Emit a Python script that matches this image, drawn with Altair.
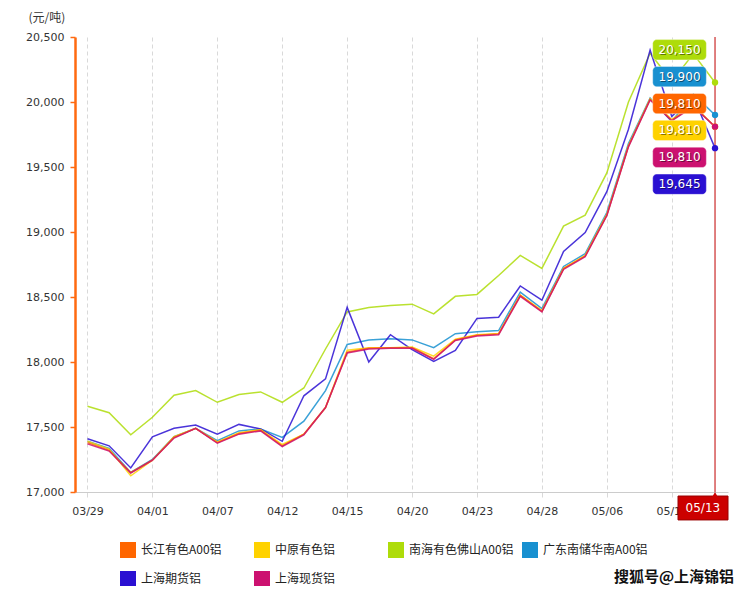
import altair as alt
import pandas as pd

dates = ["03/29", "03/30", "03/31", "04/01", "04/02", "04/06", "04/07", "04/08", "04/09", "04/12",
         "04/13", "04/14", "04/15", "04/16", "04/19", "04/20", "04/21", "04/22", "04/23", "04/26",
         "04/27", "04/28", "04/29", "04/30", "05/06", "05/07", "05/10", "05/11", "05/12", "05/13"]

series = ["长江有色A00铝", "中原有色铝", "南海有色佛山A00铝", "广东南储华南A00铝", "上海期货铝", "上海现货铝"]
colors = ["#FF6600", "#FFD200", "#AEDC0A", "#1890D0", "#2A10D2", "#CC1170"]

changjiang = [17380, 17320, 17150, 17245, 17420, 17490, 17380, 17450, 17475, 17355,
              17445, 17650, 18075, 18105, 18110, 18110, 18025, 18170, 18205, 18215,
              18512, 18390, 18718, 18815, 19130, 19660, 20020, 19860, 19970, 19810]
zhongyuan = [17390, 17330, 17125, 17245, 17425, 17490, 17385, 17455, 17480, 17365,
             17445, 17650, 18090, 18110, 18110, 18115, 18045, 18175, 18210, 18220,
             18515, 18395, 18720, 18820, 19135, 19665, 20025, 19865, 19975, 19810]
nanhai = [17660, 17610, 17440, 17575, 17745, 17780, 17690, 17750, 17770, 17690,
          17800, 18100, 18385, 18420, 18435, 18445, 18370, 18505, 18520, 18665,
          18820, 18720, 19045, 19130, 19455, 20000, 20375, 20160, 20370, 20150]
guangdong = [17390, 17335, 17150, 17250, 17425, 17490, 17395, 17470, 17485, 17420,
             17545, 17780, 18135, 18170, 18178, 18170, 18110, 18218, 18232, 18242,
             18537, 18410, 18735, 18833, 19150, 19680, 20030, 19850, 20060, 19900]
shfe = [17410, 17355, 17185, 17425, 17490, 17515, 17445, 17520, 17485, 17390,
        17740, 17870, 18420, 18000, 18210, 18095, 18005, 18090, 18335, 18345,
        18585, 18475, 18850, 18995, 19310, 19790, 20400, 19890, 20040, 19645]
shspot = [17370, 17315, 17145, 17245, 17415, 17490, 17375, 17445, 17470, 17350,
          17440, 17650, 18070, 18100, 18105, 18105, 18020, 18165, 18200, 18210,
          18505, 18385, 18712, 18810, 19125, 19655, 20015, 19855, 19965, 19810]

values = {
    "长江有色A00铝": changjiang,
    "中原有色铝": zhongyuan,
    "南海有色佛山A00铝": nanhai,
    "广东南储华南A00铝": guangdong,
    "上海期货铝": shfe,
    "上海现货铝": shspot,
}

y_ticks = [17000, 17500, 18000, 18500, 19000, 19500, 20000, 20500]
unit_label = "(元/吨)"
watermark = "搜狐号@上海锦铝"

# drawing order (last drawn is on top)
draw_order = ["南海有色佛山A00铝", "广东南储华南A00铝", "上海期货铝", "中原有色铝", "长江有色A00铝", "上海现货铝"]
rows = []
for s in draw_order:
    for i, d in enumerate(dates):
        rows.append({"series": s, "idx": i, "date": d, "value": values[s][i]})
df = pd.DataFrame(rows)

last = len(dates) - 1
last_df = pd.DataFrame({"series": series, "idx": [last] * len(series),
                        "value": [values[s][last] for s in series]})

# tooltip-style boxes, sorted by last value
sorted_series = sorted(series, key=lambda s: -values[s][last])
top_center, step, half = 20402, 206.9, 78
box_df = pd.DataFrame({
    "series": sorted_series,
    "text": [f"{values[s][last]:,}" for s in sorted_series],
    "yc": [top_center - k * step for k in range(len(sorted_series))],
})
box_df["y0"] = box_df["yc"] + half
box_df["y1"] = box_df["yc"] - half
box_df["x0"] = 26.12
box_df["x1"] = 28.6
box_df["xc"] = 27.36

X_DOMAIN = [-0.577, 29.6]
Y_DOMAIN = [17000, 20500]
xs = alt.Scale(domain=X_DOMAIN, nice=False, zero=False)
ys = alt.Scale(domain=Y_DOMAIN, nice=False, zero=False)
cscale = alt.Scale(domain=series, range=colors)

label_expr = "[" + ",".join(f"'{d}'" for d in dates) + "][datum.value]"
FONT = "DejaVu Sans"
CJK = "Noto Sans CJK SC"

x_axis = alt.Axis(values=list(range(0, len(dates), 3)), labelExpr=label_expr, grid=True,
                  gridDash=[4, 3], gridColor="#d9d9d9", domainColor="#cccccc", tickColor="#d9d9d9",
                  tickSize=5, labelPadding=8, labelFont=FONT, labelFontSize=11, labelColor="#333333",
                  title=None, labelFlush=False)
y_axis = alt.Axis(values=y_ticks, format=",.0f", grid=False, domainColor="#FF6A10", domainWidth=2.5,
                  tickColor="#FF6A10", tickSize=5, tickWidth=1.5, labelPadding=6, labelFont=FONT,
                  labelFontSize=11, labelColor="#333333", title=unit_label, titleAngle=0,
                  titleX=-47, titleY=-20, titleAlign="left", titleBaseline="middle", titleFont=CJK,
                  titleFontSize=12, titleFontWeight="normal", titleColor="#333333")
legend = alt.Legend(
    orient="none", legendX=45, legendY=505, direction="horizontal", columns=4,
    symbolType="square", symbolSize=256, symbolStrokeWidth=0, labelFont=CJK,
    labelFontSize=12, labelColor="#222222", labelOffset=5, columnPadding=8, rowPadding=13,
    gridAlign="all", title=None, padding=0, symbolOpacity=1, labelLimit=200)


def X(field):
    return alt.X(field, scale=xs, axis=x_axis)


def Y(field):
    return alt.Y(field, scale=ys, axis=y_axis)


def C():
    return alt.Color("series:N", scale=cscale, legend=legend)


lines = alt.Chart(df).mark_line(strokeWidth=1.5, opacity=0.85).encode(
    x=X("idx:Q"), y=Y("value:Q"), color=C(), detail="series:N",
)

vline = alt.Chart(pd.DataFrame({"idx": [last]})).mark_rule(color="#C00000", strokeWidth=1).encode(
    x=X("idx:Q"),
)

dots = alt.Chart(last_df).mark_circle(size=40, opacity=1).encode(
    x=X("idx:Q"), y=Y("value:Q"), color=C(),
)

boxes = alt.Chart(box_df).mark_rect(cornerRadius=4, stroke="#ffffff", strokeOpacity=0.4, strokeWidth=1).encode(
    x=X("x0:Q"), x2="x1:Q", y=Y("y0:Q"), y2="y1:Q", color=C(),
)
box_shadow = alt.Chart(box_df).mark_text(font=FONT, fontSize=12, color="#000000", opacity=0.45, dx=1, dy=1).encode(
    x=X("xc:Q"), y=Y("yc:Q"), text="text:N")
box_text = alt.Chart(box_df).mark_text(font=FONT, fontSize=12, color="#ffffff").encode(
    x=X("xc:Q"), y=Y("yc:Q"), text="text:N")

date_df = pd.DataFrame({"x0": [27.29], "x1": [29.6], "y0": [16969], "y1": [16785],
                        "xc": [28.44], "yc": [16877], "px": [last], "py": [16977],
                        "text": [dates[last]]})
date_box = alt.Chart(date_df).mark_rect(color="#CC0000", stroke="#990000", strokeWidth=1).encode(
    x=X("x0:Q"), x2="x1:Q", y=Y("y0:Q"), y2="y1:Q")
date_ptr = alt.Chart(date_df).mark_point(shape="triangle-up", filled=True, size=45, color="#CC0000", opacity=1).encode(
    x=X("px:Q"), y=Y("py:Q"))
date_text = alt.Chart(date_df).mark_text(font=FONT, fontSize=12, color="#ffffff").encode(
    x=X("xc:Q"), y=Y("yc:Q"), text="text:N")

wm_df = pd.DataFrame({"t": [watermark]})
wm_halo = alt.Chart(wm_df).mark_text(font=CJK, fontSize=15, fontWeight="bold", stroke="#ffffff",
                                      strokeWidth=3, color="#ffffff").encode(
    x=alt.value(599), y=alt.value(540), text="t:N")
wm_text = alt.Chart(wm_df).mark_text(font=CJK, fontSize=15, fontWeight="bold", color="#111111").encode(
    x=alt.value(599), y=alt.value(540), text="t:N")

chart = alt.layer(lines, vline, dots, boxes, box_shadow, box_text, date_box, date_ptr, date_text,
                  wm_halo, wm_text).properties(
    width=653, height=455,
    padding={"left": 67, "top": 29, "right": 16, "bottom": 94},
    autosize=alt.AutoSizeParams(type="none"),
    background="#ffffff",
).configure_view(stroke=None)

chart.save("out.html", embed_options={"renderer": "svg", "actions": False})
